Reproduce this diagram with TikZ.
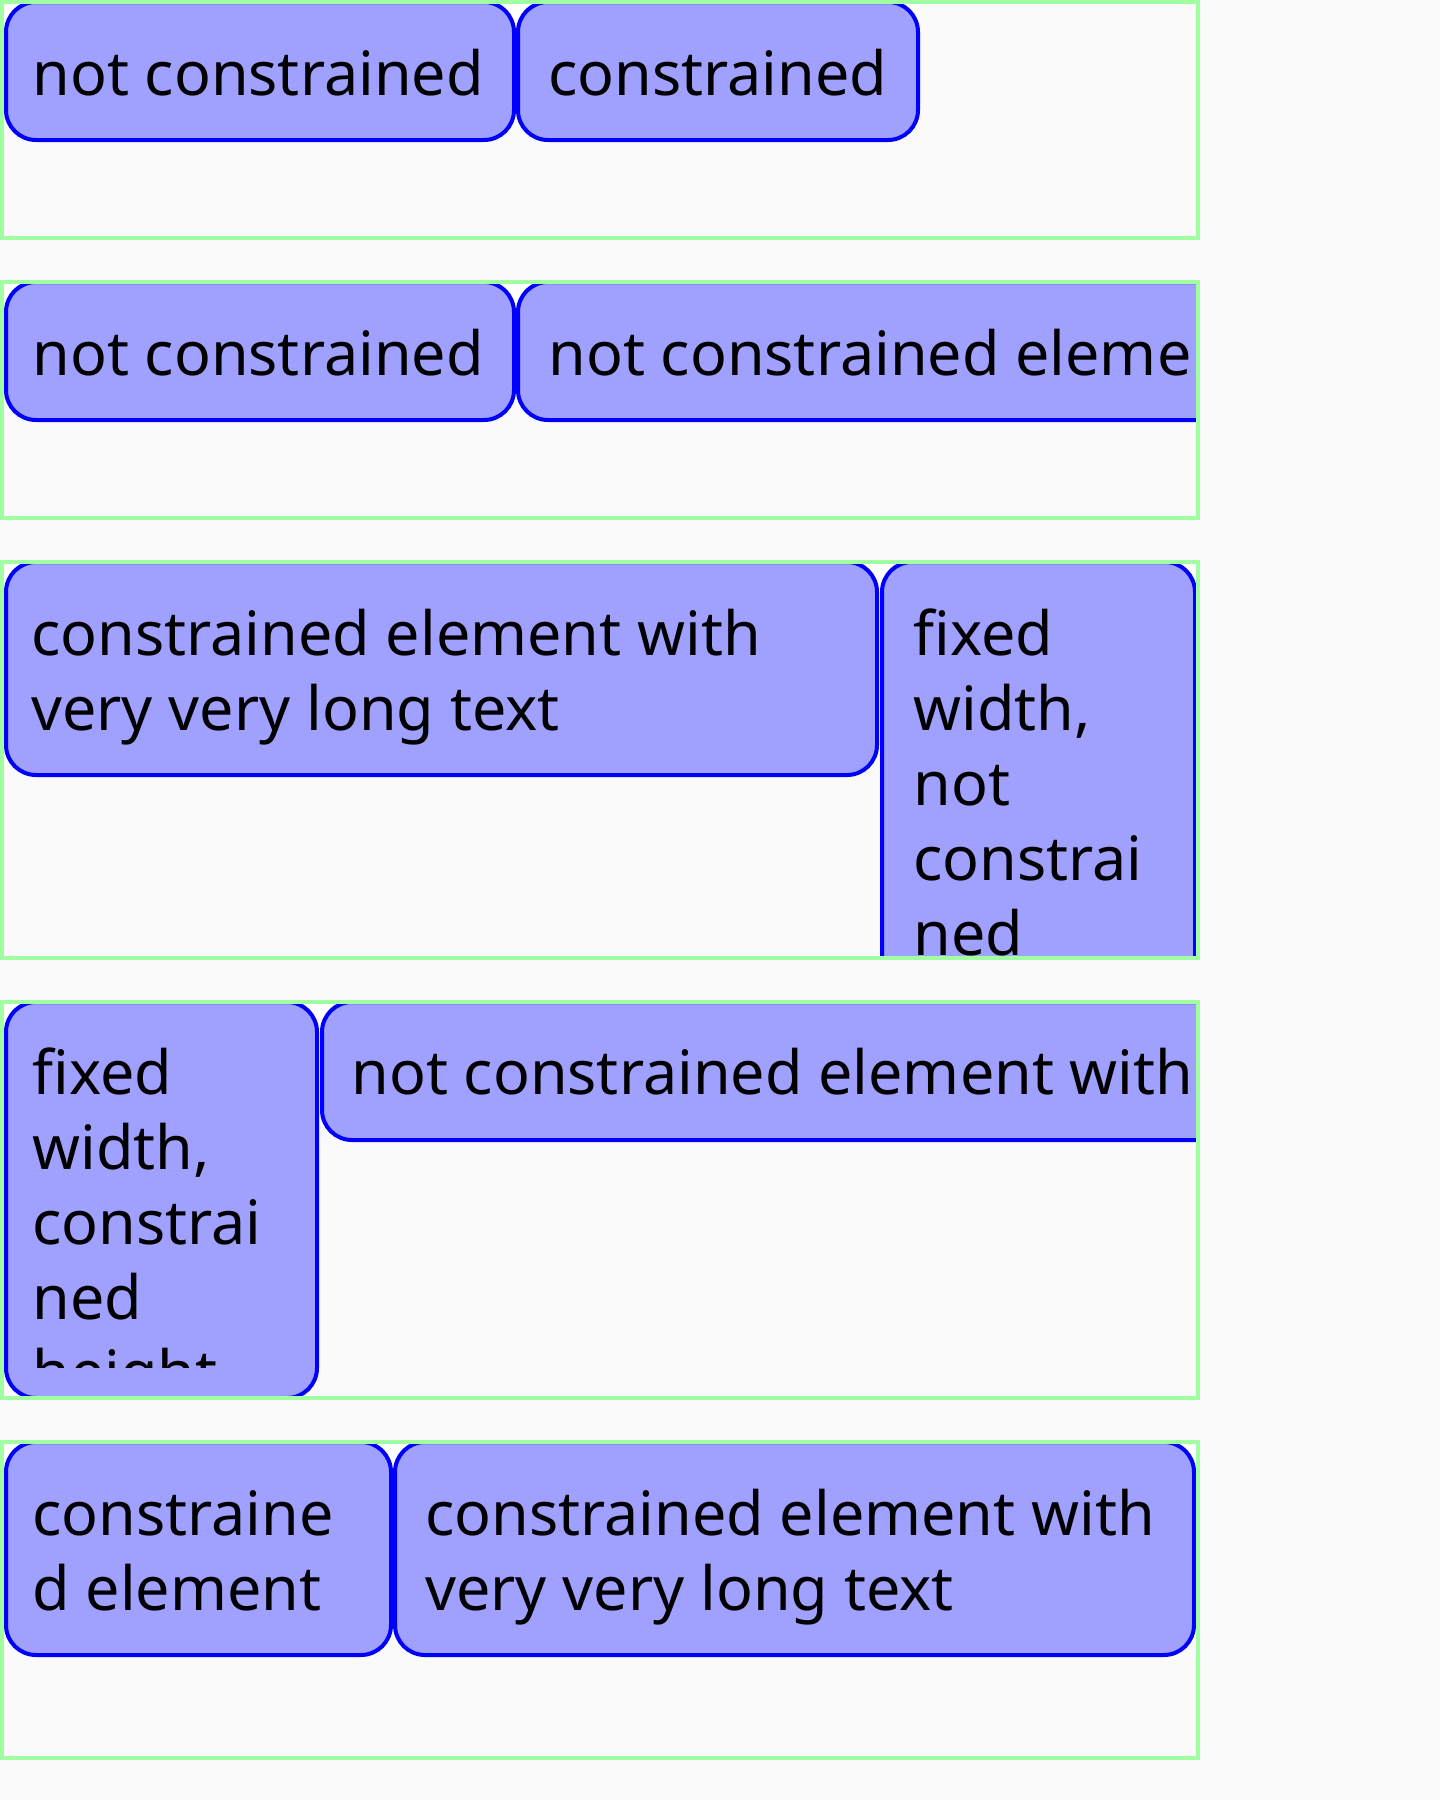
\documentclass[tikz,border=0pt]{standalone}
\usepackage{fontspec}
\setmainfont{Noto Sans}[Ligatures=NoCommon]
\definecolor{pagebg}{HTML}{FAFAFA}
\definecolor{framegreen}{HTML}{A0FFA0}
\definecolor{boxfill}{HTML}{A0A0FF}
\definecolor{boxline}{HTML}{0000FF}
\tikzset{
  container/.style={draw=framegreen, line width=2pt},
  itembox/.style={fill=boxfill, draw=boxline, line width=2pt, rounded corners=15pt},
  topstrip/.style={fill=white},
  lbl/.style={anchor=base west, inner sep=0pt, text=black, font=\fontsize{30.5pt}{37.5pt}\selectfont},
}
\begin{document}
\begin{tikzpicture}[x=0.5pt,y=-0.5pt]
\fill[pagebg] (0,0) rectangle (1440,1800);
\useasboundingbox (0,0) rectangle (1440,1800);

% ---- container 1
\begin{scope}
  \clip (4,4) rectangle (1196,236);
  \fill[topstrip] (4,4) rectangle (920,34);
  \draw[itembox] (6,2) rectangle (514,140);
  \draw[itembox] (518,2) rectangle (918,140);
  \node[lbl] (c1a) at (32,95) {not constrained};
  \node[lbl] (c1b) at (548,95) {constrained};
\end{scope}
\draw[container] (2,2) rectangle (1198,238);

% ---- container 2
\begin{scope}
  \clip (4,284) rectangle (1196,516);
  \fill[topstrip] (4,284) rectangle (1196,314);
  \draw[itembox] (6,282) rectangle (514,420);
  \draw[itembox] (518,282) rectangle (1600,420);
  \node[lbl] (c2a) at (32,375) {not constrained};
  \node[lbl] (c2b) at (548,375) {not constrained element};
\end{scope}
\draw[container] (2,282) rectangle (1198,518);

% ---- container 3
\begin{scope}
  \clip (4,564) rectangle (1196,956);
  \fill[topstrip] (4,564) rectangle (1196,594);
  \draw[itembox] (6,562) rectangle (877,775);
  \draw[itembox] (882,562) rectangle (1195,1100);
  \node[lbl] (c3a1) at (31,655) {constrained element with};
  \node[lbl] (c3a2) at (31,730) {very very long text};
  \node[lbl] (c3b1) at (913,655) {fixed};
  \node[lbl] (c3b2) at (913,730) {width,};
  \node[lbl] (c3b3) at (913,805) {not};
  \node[lbl] (c3b4) at (913,880) {constrai};
  \node[lbl] (c3b5) at (913,955) {ned};
\end{scope}
\draw[container] (2,562) rectangle (1198,958);

% ---- container 4
\begin{scope}
  \clip (4,1004) rectangle (1196,1396);
  \fill[topstrip] (4,1004) rectangle (1196,1034);
  \draw[itembox] (6,1002) rectangle (317,1398);
  \draw[itembox] (322,1002) rectangle (1600,1140);
  \begin{scope}
    \clip (6,1004) rectangle (317,1367);
    \node[lbl] (c4a1) at (32,1094) {fixed};
    \node[lbl] (c4a2) at (32,1169) {width,};
    \node[lbl] (c4a3) at (32,1244) {constrai};
    \node[lbl] (c4a4) at (32,1319) {ned};
    \node[lbl] (c4a5) at (32,1394) {height};
  \end{scope}
  \node[lbl] (c4b) at (351,1094) {not constrained element with};
\end{scope}
\draw[container] (2,1002) rectangle (1198,1398);

% ---- container 5
\begin{scope}
  \clip (4,1444) rectangle (1196,1756);
  \fill[topstrip] (4,1444) rectangle (1196,1474);
  \draw[itembox] (6,1442) rectangle (391,1655);
  \draw[itembox] (395,1442) rectangle (1194,1655);
  \node[lbl] (c5a1) at (32,1535) {constraine};
  \node[lbl] (c5a2) at (32,1610) {d element};
  \node[lbl] (c5b1) at (425,1535) {constrained element with};
  \node[lbl] (c5b2) at (425,1610) {very very long text};
\end{scope}
\draw[container] (2,1442) rectangle (1198,1758);
\end{tikzpicture}
\end{document}
